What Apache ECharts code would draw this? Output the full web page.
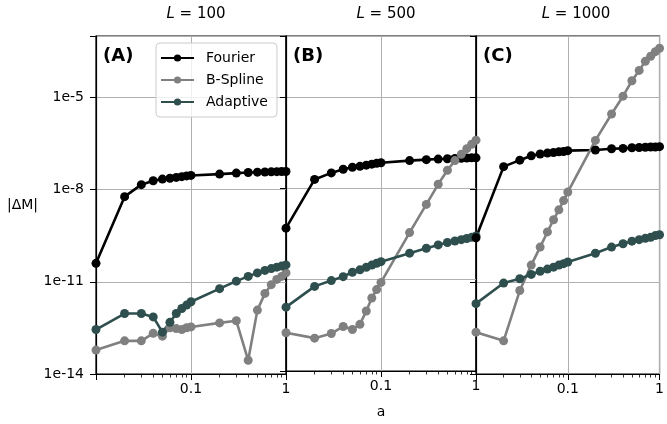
<!DOCTYPE html>
<html>
<head>
<meta charset="utf-8">
<script src="https://cdn.jsdelivr.net/npm/echarts@6/dist/echarts.min.js"></script>
<style>
html,body{margin:0;padding:0;background:#fff;}
#chart{width:667px;height:424px;}
</style>
</head>
<body>
<div id="chart"></div>
<script>
// ---- data ----
const aValues = [0.01,0.02,0.03,0.04,0.05,0.06,0.07,0.08,0.09,0.1,0.2,0.3,0.4,0.5,0.6,0.7,0.8,0.9,1.0];
const panelTitles = ['100','500','1000'];
const panelLabels = ['(A)','(B)','(C)'];
const seriesNames = ['Fourier','B-Spline','Adaptive'];
const yTickLabels = ['1e-14','1e-11','1e-8','1e-5'];

// L = 100
const fourierL100 = [4.0e-11,5.9e-9,1.45e-8,1.95e-8,2.2e-8,2.35e-8,2.5e-8,2.65e-8,2.8e-8,2.9e-8,3.2e-8,3.45e-8,3.6e-8,3.7e-8,3.75e-8,3.8e-8,3.85e-8,3.9e-8,3.9e-8];
const bsplineL100 = [6.0e-14,1.2e-13,1.2e-13,2.1e-13,1.7e-13,3.2e-13,3.0e-13,2.8e-13,3.2e-13,3.4e-13,4.6e-13,5.4e-13,2.8e-14,1.2e-12,4.2e-12,8.1e-12,1.2e-11,1.5e-11,1.95e-11];
const adaptiveL100 = [2.8e-13,9.3e-13,9.3e-13,7.2e-13,2.3e-13,4.8e-13,9.3e-13,1.35e-12,1.75e-12,2.25e-12,6.0e-12,1.05e-11,1.5e-11,1.95e-11,2.35e-11,2.7e-11,3.0e-11,3.25e-11,3.55e-11];
// L = 500
const fourierL500 = [4.9e-10,1.95e-8,3.2e-8,4.2e-8,4.9e-8,5.25e-8,5.75e-8,6.2e-8,6.6e-8,6.9e-8,8.1e-8,8.7e-8,9.1e-8,9.3e-8,9.5e-8,9.6e-8,9.8e-8,1.0e-7,1.0e-7];
const bsplineL500 = [1.8e-13,1.2e-13,1.7e-13,2.9e-13,2.3e-13,3.4e-13,9.3e-13,2.5e-12,4.7e-12,8.1e-12,3.5e-10,2.95e-9,1.35e-8,3.9e-8,8.1e-8,1.3e-7,2.0e-7,2.8e-7,3.8e-7];
const adaptiveL500 = [1.25e-12,6.0e-12,9.3e-12,1.25e-11,1.75e-11,2.1e-11,2.55e-11,3.0e-11,3.45e-11,3.9e-11,7.4e-11,1.07e-10,1.38e-10,1.66e-10,1.86e-10,2.05e-10,2.25e-10,2.45e-10,2.7e-10];
// L = 1000
const fourierL1000 = [2.7e-10,5.6e-8,9.1e-8,1.26e-7,1.45e-7,1.55e-7,1.62e-7,1.7e-7,1.74e-7,1.86e-7,1.95e-7,2.14e-7,2.2e-7,2.3e-7,2.35e-7,2.4e-7,2.45e-7,2.45e-7,2.5e-7];
const bsplineL1000 = [2.3e-13,1.2e-13,5.2e-12,3.5e-11,1.35e-10,4.2e-10,1.05e-9,2.2e-9,4.4e-9,8.3e-9,4.0e-7,2.9e-6,1.1e-5,3.5e-5,7.6e-5,1.5e-4,2.2e-4,3.1e-4,4.0e-4];
const adaptiveL1000 = [1.95e-12,9.1e-12,1.26e-11,1.74e-11,2.2e-11,2.6e-11,3.0e-11,3.5e-11,3.9e-11,4.4e-11,8.5e-11,1.35e-10,1.74e-10,2.1e-10,2.35e-10,2.6e-10,2.8e-10,3.2e-10,3.4e-10];

const panelData = [
  [fourierL100, bsplineL100, adaptiveL100],
  [fourierL500, bsplineL500, adaptiveL500],
  [fourierL1000, bsplineL1000, adaptiveL1000]
];
const colors = ['#000000','#808080','#2f4f4f'];

// ---- chart ----
const FONT = 'DejaVu Sans';
const chart = echarts.init(document.getElementById('chart'), null, {renderer:'canvas'});
const gridLefts = [96, 286, 476];
const grids = gridLefts.map(l => ({left:l, top:36, width:190, height:338, show:true, borderColor:'#000', borderWidth:1.2, backgroundColor:'transparent'}));

const xAxes = gridLefts.map((l,i) => ({
  type:'log', gridIndex:i, min:0.01, max:1, logBase:10,
  name: i===1 ? 'a' : '', nameLocation:'middle', nameGap:34,
  nameTextStyle:{fontFamily:FONT, fontSize:14, color:'#000'},
  axisLine:{show:true, lineStyle:{color:'#000', width:1.2}},
  axisTick:{show:true, length:6, lineStyle:{color:'#000', width:1}},
  minorTick:{show:true, splitNumber:9, length:3.5, lineStyle:{color:'#000', width:0.8}},
  splitLine:{show:true, lineStyle:{color:'#b0b0b0', width:1}},
  axisLabel:{fontFamily:FONT, fontSize:14, color:'#000', margin:8, showMinLabel:true, showMaxLabel:true,
    formatter: v => { const e = Math.round(Math.log10(v)); if (e === -2) return ''; return e === -1 ? '0.1' : '1'; }}
}));

const yAxes = gridLefts.map((l,i) => ({
  type:'log', gridIndex:i, min:1e-14, max:1e-3, logBase:10, interval:3,
  name: i===0 ? '|ΔM|' : '', nameLocation:'middle', nameRotate:0, nameGap:58,
  nameTextStyle:{fontFamily:FONT, fontSize:14, color:'#000'},
  axisLine:{show:true, lineStyle:{color:'#000', width:1.2}},
  axisTick:{show:true, length:6, lineStyle:{color:'#000', width:1}},
  splitLine:{show:true, lineStyle:{color:'#b0b0b0', width:1}},
  axisLabel:{show: i===0, fontFamily:FONT, fontSize:14, color:'#000', margin:12,
    formatter: v => { const e = Math.round(Math.log10(v)); const s = '1e' + e; return yTickLabels.indexOf(s) >= 0 ? s : ''; }}
}));

const series = [];
panelData.forEach((arrs, pi) => {
  arrs.forEach((vals, si) => {
    series.push({
      type:'line', name:seriesNames[si], xAxisIndex:pi, yAxisIndex:pi,
      data: aValues.map((a,k) => [a, vals[k]]),
      symbol:'circle', symbolSize:9, showSymbol:true,
      lineStyle:{color:colors[si], width:2.6},
      itemStyle:{color:colors[si]},
      emphasis:{disabled:true}, animation:false, clip:true
    });
  });
});

const titles = [];
gridLefts.forEach((l,i) => {
  titles.push({text:'{i|L} = ' + panelTitles[i], left:l+95, top:2, textAlign:'center',
    textStyle:{fontFamily:FONT, fontSize:15, fontWeight:'normal', color:'#000',
      rich:{i:{fontFamily:FONT, fontSize:15, fontStyle:'italic', color:'#000'}}}});
  titles.push({text:panelLabels[i], left:l+2, top:42,
    textStyle:{fontFamily:FONT, fontSize:18, fontWeight:'bold', color:'#000'}});
});

chart.setOption({
  animation:false,
  backgroundColor:'#fff',
  title: titles,
  grid: grids,
  xAxis: xAxes,
  yAxis: yAxes,
  legend:{
    data: seriesNames, orient:'vertical', left:156, top:43,
    itemWidth:33, itemHeight:9, itemGap:8,
    padding:[8,9,8,4],
    backgroundColor:'rgba(255,255,255,0.8)', borderColor:'#cccccc', borderWidth:1, borderRadius:4,
    textStyle:{fontFamily:FONT, fontSize:14, color:'#000', padding:[0,0,0,7]},
    selectedMode:false
  },
  series: series
});
</script>
</body>
</html>
